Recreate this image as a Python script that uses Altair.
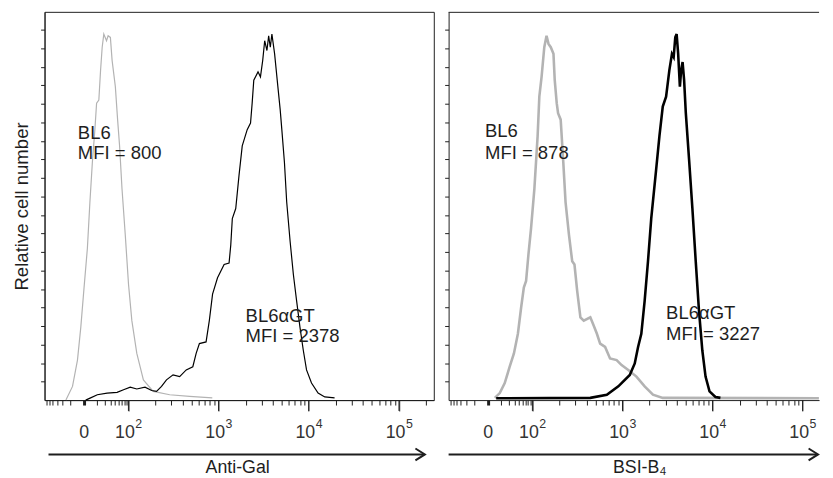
import math
import altair as alt
import pandas as pd

# x values are positions on the biexponential display axis, in decades
# (0 sits at 1.505, 10^2 = 2, 10^3 = 3, 10^4 = 4, 10^5 = 5); y is relative cell number.
SERIES = ["BL6", "BL6αGT"]

# Left panel: Anti-Gal
AG_BL6_X = [1.307, 1.380, 1.435, 1.472, 1.508, 1.545, 1.573, 1.600, 1.628, 1.647, 1.672, 1.691, 1.709, 1.727, 1.757,
            1.775, 1.800, 1.819, 1.855, 1.880, 1.902, 1.929, 1.965, 2.001, 2.038, 2.093, 2.166, 2.275, 2.458, 2.678, 2.930]
AG_BL6_Y = [0.0, 0.74, 2.16, 3.94, 6.07, 8.20, 10.69, 12.83, 14.60, 16.03, 16.20, 17.80, 19.05, 19.76, 19.40,
            19.67, 19.58, 18.34, 16.92, 15.14, 13.72, 11.40, 8.92, 6.25, 4.29, 2.52, 1.09, 0.47, 0.29, 0.20, 0.12]
AG_GT_X = [1.526, 1.581, 1.655, 1.764, 1.874, 1.946, 2.020, 2.093, 2.184, 2.258, 2.312, 2.367, 2.422, 2.495, 2.568,
           2.641, 2.714, 2.751, 2.787, 2.861, 2.897, 2.933, 2.988, 3.061, 3.116, 3.135, 3.152, 3.190, 3.226, 3.262,
           3.317, 3.354, 3.372, 3.390, 3.437, 3.464, 3.489, 3.511, 3.536, 3.555, 3.573, 3.591, 3.621, 3.657, 3.683,
           3.701, 3.730, 3.755, 3.793, 3.829, 3.865, 3.902, 3.939, 3.975, 4.030, 4.103, 4.177, 4.286]
AG_GT_Y = [0.0, 0.12, 0.29, 0.38, 0.42, 0.56, 0.70, 0.60, 0.70, 0.52, 0.47, 0.74, 1.09, 1.36, 1.27,
           1.63, 1.80, 2.52, 3.05, 3.14, 4.29, 5.72, 6.60, 7.32, 7.40, 8.38, 9.80, 10.34, 12.12, 13.72,
           14.60, 14.96, 16.03, 17.27, 17.72, 17.45, 18.34, 19.40, 18.87, 19.67, 19.05, 19.76, 18.69, 16.92, 15.67,
           14.60, 12.83, 10.69, 8.56, 6.78, 5.36, 3.94, 2.69, 1.63, 0.92, 0.38, 0.17, 0.12]

# Right panel: BSI-B4
BS_BL6_X = [1.583, 1.638, 1.693, 1.748, 1.795, 1.839, 1.875, 1.905, 1.930, 1.956, 1.985, 2.022, 2.058, 2.077, 2.102,
            2.132, 2.157, 2.179, 2.204, 2.234, 2.248, 2.270, 2.285, 2.314, 2.343, 2.368, 2.406, 2.442, 2.467, 2.497,
            2.533, 2.570, 2.643, 2.680, 2.716, 2.752, 2.807, 2.862, 2.935, 2.990, 3.064, 3.155, 3.246, 3.338, 3.447, 5.18]
BS_BL6_Y = [0.12, 0.38, 0.92, 1.80, 2.52, 3.58, 5.00, 6.07, 6.43, 7.85, 9.27, 11.40, 14.25, 16.38, 17.45,
            19.05, 19.67, 19.23, 19.05, 18.69, 17.27, 16.03, 15.49, 15.14, 12.83, 10.69, 8.92, 7.49, 7.32, 5.89,
            4.47, 4.29, 4.47, 4.03, 3.58, 3.05, 2.87, 2.25, 2.16, 1.89, 1.63, 1.27, 0.74, 0.29, 0.12, 0.10]
BS_GT_X = [1.598, 2.643, 2.826, 2.954, 3.081, 3.136, 3.173, 3.209, 3.246, 3.283, 3.319, 3.374, 3.410, 3.447, 3.484,
           3.520, 3.549, 3.568, 3.586, 3.601, 3.618, 3.637, 3.651, 3.667, 3.684, 3.703, 3.739, 3.776, 3.813, 3.849,
           3.886, 3.922, 3.966, 4.032, 4.087]
BS_GT_Y = [0.10, 0.12, 0.29, 0.74, 1.36, 1.98, 2.87, 3.58, 5.36, 7.49, 9.80, 12.47, 14.25, 15.85, 16.38,
           17.80, 18.69, 18.52, 19.58, 19.76, 18.69, 16.92, 17.80, 18.25, 17.27, 15.49, 13.00, 10.34, 7.49, 4.83,
           2.69, 1.27, 0.47, 0.17, 0.12]

# Annotations
AG_NOTES = ["BL6", "MFI = 800", "BL6αGT", "MFI = 2378"]
AG_NOTE_X = [1.439, 1.439, 3.299, 3.299]
AG_NOTE_Y = [14.10, 13.03, 4.23, 3.16]
BS_NOTES = ["BL6", "MFI = 878", "BL6αGT", "MFI = 3227"]
BS_NOTE_X = [1.474, 1.474, 3.484, 3.484]
BS_NOTE_Y = [14.19, 13.03, 4.36, 3.25]

# Axis ticks / labels
XMIN = 1.07
ZERO = 1.505
XMAX_L = 5.386
XMAX_R = 5.182
YMAX = 20.96
MAJOR = [2, 3, 4, 5]
MAJOR_BASE = "10"
MAJOR_EXP = ["2", "3", "4", "5"]
YTICKS = list(range(1, 21))
ZERO_TEST = "abs(datum.value - %s) < 0.001" % ZERO
MINOR_LABELS = ZERO_TEST + " ? '0' : ''"

W_L, W_R, H = 394, 375, 393
INK = "#1e1e1e"
LABEL_INK = "#333333"
FONT = "Liberation Sans"
ARROW_Y = 448


def minor_ticks(xmax):
    t = [ZERO]
    for m in range(2, 10):
        t.append(ZERO + 0.495 * math.log10(m))
        t.append(ZERO - 0.495 * math.log10(m))
    for n in (2, 3, 4, 5):
        for m in range(2, 10):
            t.append(n + math.log10(m))
    return [round(v, 4) for v in t if XMIN + 0.01 < v < xmax - 0.01]


def series_df(pairs):
    rows = []
    for name, xs, ys in pairs:
        rows += [{"series": name, "d": x, "c": y} for x, y in zip(xs, ys)]
    return pd.DataFrame(rows)


def notes_df(labels, xs, ys):
    return pd.DataFrame({"label": labels, "d": xs, "c": ys})


def panel(df, notes, xmax, width, title, sw, colors, ytitle, border, title_x):
    xs = alt.Scale(domain=[XMIN, xmax], nice=False, zero=False)
    ys = alt.Scale(domain=[0, YMAX], nice=False, zero=False)
    major_axis = alt.Axis(
        values=MAJOR, orient="bottom", labelExpr="'%s'" % MAJOR_BASE, tickSize=11, tickColor=INK, tickWidth=1,
        labelFontSize=18, labelFont=FONT, labelColor=LABEL_INK, labelPadding=13, labelFlush=False,
        labelOffset=-4, labelOverlap=False, domain=True, domainColor=INK, domainWidth=1, grid=False,
        title=title, titleFont=FONT, titleFontSize=18, titleFontWeight="normal", titleColor=INK,
        titlePadding=17, titleX=title_x, titleAlign="center")
    minor_axis = alt.Axis(
        values=minor_ticks(xmax), orient="bottom", labelExpr=MINOR_LABELS, labelFontSize=18, labelFont=FONT,
        labelColor=LABEL_INK, labelPadding=19, labelFlush=False, labelOverlap=False,
        domain=False, grid=False, tickSize=5, tickColor=INK,
        tickWidth={"condition": {"test": ZERO_TEST, "value": 3}, "value": 1},
        title=None)
    if ytitle:
        yaxis = alt.Axis(values=YTICKS, labels=False, tickSize=4, tickColor=INK, domain=True, domainColor=INK,
                         grid=False, title=ytitle, titleFont=FONT, titleFontSize=18.8, titleFontWeight="normal",
                         titleColor=INK, titlePadding=9)
    else:
        yaxis = alt.Axis(values=YTICKS, labels=False, tickSize=4, tickColor=INK, domain=True, domainColor=INK,
                         grid=False, title=None)

    lines = alt.Chart(df).mark_line(strokeWidth=sw).encode(
        x=alt.X("d:Q", scale=xs, axis=major_axis),
        y=alt.Y("c:Q", scale=ys, axis=yaxis),
        color=alt.Color("series:N", scale=alt.Scale(domain=SERIES, range=colors), legend=None),
    )
    minor = alt.Chart(pd.DataFrame({"d": [2.5], "c": [1.0]})).mark_point(opacity=0).encode(
        x=alt.X("d:Q", scale=xs, axis=minor_axis),
        y=alt.Y("c:Q", scale=ys, axis=yaxis),
    )
    text = alt.Chart(notes).mark_text(align="left", baseline="alphabetic", fontSize=18.7, font=FONT,
                                      color=INK).encode(
        x=alt.X("d:Q", scale=xs, axis=None),
        y=alt.Y("c:Q", scale=ys, axis=yaxis),
        text="label:N",
    )
    major_df = pd.DataFrame({"d": MAJOR, "exp": MAJOR_EXP})
    major_ticks = alt.Chart(major_df).mark_rule(color=INK, strokeWidth=1).encode(
        x=alt.X("d:Q", scale=xs, axis=None), y=alt.value(H), y2=alt.value(H + 11))
    exps = alt.Chart(major_df).mark_text(align="left", baseline="top", fontSize=12.5, font=FONT, dx=7,
                                         color=LABEL_INK).encode(
        x=alt.X("d:Q", scale=xs, axis=None), y=alt.value(H + 18), text="exp:N")
    one = pd.DataFrame({"k": [0]})
    x0 = 4 if border else 0
    tip = width - 9 if border else width - 1
    arrow = alt.Chart(one).mark_rule(color=INK, strokeWidth=2).encode(
        x=alt.value(x0), x2=alt.value(tip - 1), y=alt.value(ARROW_Y))
    head = alt.Chart(one).mark_point(shape="M-1.6,-1L0,0L-1.6,1", filled=False, size=144, strokeWidth=2,
                                     color=INK, opacity=1).encode(x=alt.value(tip), y=alt.value(ARROW_Y))
    layers = [lines, minor, text, major_ticks, exps, arrow, head]
    if border:
        view = alt.ViewBackground(stroke=INK, strokeOpacity=1, strokeWidth=1)
    else:
        top = alt.Chart(one).mark_rule(color=INK, strokeWidth=1).encode(
            x=alt.value(0), x2=alt.value(width), y=alt.value(0.5))
        layers.append(top)
        view = alt.ViewBackground(strokeOpacity=0)
    return alt.layer(*layers).resolve_axis(x="independent").properties(width=width, height=H, view=view)


left = panel(
    series_df([("BL6", AG_BL6_X, AG_BL6_Y), ("BL6αGT", AG_GT_X, AG_GT_Y)]),
    notes_df(AG_NOTES, AG_NOTE_X, AG_NOTE_Y),
    XMAX_L, W_L, "Anti-Gal", 1.2, ["#b3b3b3", "#000000"], "Relative cell number", True, 195)
right = panel(
    series_df([("BL6", BS_BL6_X, BS_BL6_Y), ("BL6αGT", BS_GT_X, BS_GT_Y)]),
    notes_df(BS_NOTES, BS_NOTE_X, BS_NOTE_Y),
    XMAX_R, W_R, "BSI-B₄", 2.6, ["#a8a8a8", "#000000"], None, False, 193)

chart = alt.hconcat(left, right, spacing=9).properties(
    padding={"left": 4, "top": 0, "right": 0, "bottom": 0}
).configure(font=FONT).configure_view(strokeOpacity=0)

chart.save("out.html", embed_options={"renderer": "svg", "actions": False})
